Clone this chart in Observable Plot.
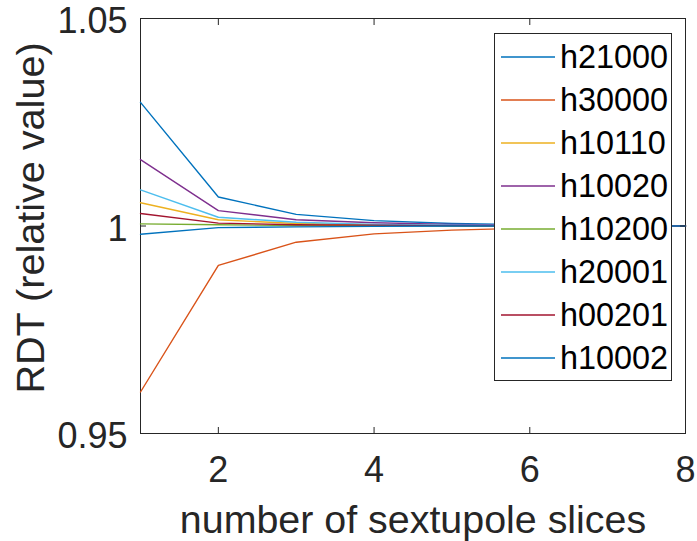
<!DOCTYPE html>
<html>
<head>
<meta charset="utf-8">
<script src="https://cdn.jsdelivr.net/npm/d3@7"></script>
<script src="https://cdn.jsdelivr.net/npm/@observablehq/plot@0.6"></script>
<style>
  html, body { margin: 0; padding: 0; background: #fff; }
  #wrap { position: relative; width: 697px; height: 541px; font-family: "Liberation Sans", Arial, sans-serif; }
  #legend { position: absolute; left: 494px; top: 33px; width: 178px; height: 348px; border: 1px solid #262626; background: #fff; box-sizing: border-box; }
  .row { position: absolute; left: 0; height: 40px; display: flex; align-items: center; }
  .row svg { margin-left: 6px; margin-right: 5px; }
  .row span { font-size: 32.4px; color: #000; line-height: 1; }
</style>
</head>
<body>
<div id="wrap"></div>
<script>
const slices = [1, 2, 3, 4, 5, 6, 7, 8];
const seriesNames = ["h21000", "h30000", "h10110", "h10020", "h10200", "h20001", "h00201", "h10002"];
const seriesColors = ["#0072BD", "#D95319", "#EDB120", "#7E2F8E", "#77AC30", "#4DBEEE", "#A2142F", "#0072BD"];
const h21000 = [1.0298, 1.0070, 1.0028, 1.0013, 1.0006, 1.0003, 1.0001, 1.0];
const h30000 = [0.9600, 0.9905, 0.9961, 0.9981, 0.9990, 0.9995, 0.9998, 1.0];
const h10110 = [1.0056, 1.0015, 1.0006, 1.0003, 1.0001, 1.0001, 1.0000, 1.0];
const h10020 = [1.0160, 1.0037, 1.0015, 1.0008, 1.0004, 1.0002, 1.0001, 1.0];
const h10200 = [1.0005, 1.0003, 1.0001, 1.0001, 1.0000, 1.0000, 1.0000, 1.0];
const h20001 = [1.0087, 1.0021, 1.0009, 1.0004, 1.0002, 1.0001, 1.0000, 1.0];
const h00201 = [1.0030, 1.0007, 1.0003, 1.0002, 1.0001, 1.0000, 1.0000, 1.0];
const h10002 = [0.9980, 0.9996, 0.9998, 0.9999, 1.0000, 1.0000, 1.0000, 1.0];
const xTicks = [2, 4, 6, 8];
const yTicks = [0.95, 1, 1.05];
const xLabel = "number of sextupole slices";
const yLabel = "RDT (relative value)";

const seriesValues = [h21000, h30000, h10110, h10020, h10200, h20001, h00201, h10002];
const data = [];
seriesNames.forEach((name, i) => {
  slices.forEach((s, j) => data.push({series: name, idx: i, x: s, y: seriesValues[i][j]}));
});

const axisColor = "#262626";
const chart = Plot.plot({
  width: 697,
  height: 541,
  marginLeft: 140,
  marginRight: 12,
  marginTop: 18,
  marginBottom: 108,
  style: {fontFamily: "'Liberation Sans', Arial, sans-serif", background: "#fff", color: axisColor},
  x: {domain: [1, 8]},
  y: {domain: [0.95, 1.05]},
  color: {domain: seriesNames.map((d, i) => i), range: seriesColors},
  marks: [
    Plot.frame({stroke: axisColor, strokeWidth: 1}),
    Plot.line(data, {x: "x", y: "y", z: "series", stroke: "idx", strokeWidth: 1.4}),
    Plot.axisX(xTicks, {anchor: "bottom", tickSize: -6, text: null, label: null, stroke: axisColor}),
    Plot.axisX(xTicks, {anchor: "top", tickSize: -6, text: null, label: null, stroke: axisColor}),
    Plot.axisY(yTicks, {anchor: "left", tickSize: -6, text: null, label: null, stroke: axisColor}),
    Plot.axisY(yTicks, {anchor: "right", tickSize: -6, text: null, label: null, stroke: axisColor}),
    Plot.axisX(xTicks, {anchor: "bottom", tickSize: 0, tickPadding: 23, fontSize: 36, fill: axisColor, label: null, tickFormat: d => String(d)}),
    Plot.axisY(yTicks, {anchor: "left", tickSize: 0, tickPadding: 13, dy: 3, fontSize: 36, fill: axisColor, label: null, tickFormat: d => String(d)}),
    Plot.text([xLabel], {frameAnchor: "bottom", lineAnchor: "bottom", dy: 99, fontSize: 39.4, fill: axisColor}),
    Plot.text([yLabel], {frameAnchor: "left", textAnchor: "middle", lineAnchor: "bottom", dx: -97, dy: -8, rotate: -90, fontSize: 39.6, fill: axisColor})
  ]
});

const wrap = document.getElementById("wrap");
wrap.appendChild(chart);
const legend = document.createElement("div");
legend.id = "legend";
seriesNames.forEach((name, i) => {
  const row = document.createElement("div");
  row.className = "row";
  row.style.top = (3 + i * 43) + "px";
  row.innerHTML = `<svg width="54" height="4"><line x1="0" y1="2" x2="54" y2="2" stroke="${seriesColors[i]}" stroke-width="1.4"/></svg><span>${name}</span>`;
  legend.appendChild(row);
});
wrap.appendChild(legend);
</script>
</body>
</html>
